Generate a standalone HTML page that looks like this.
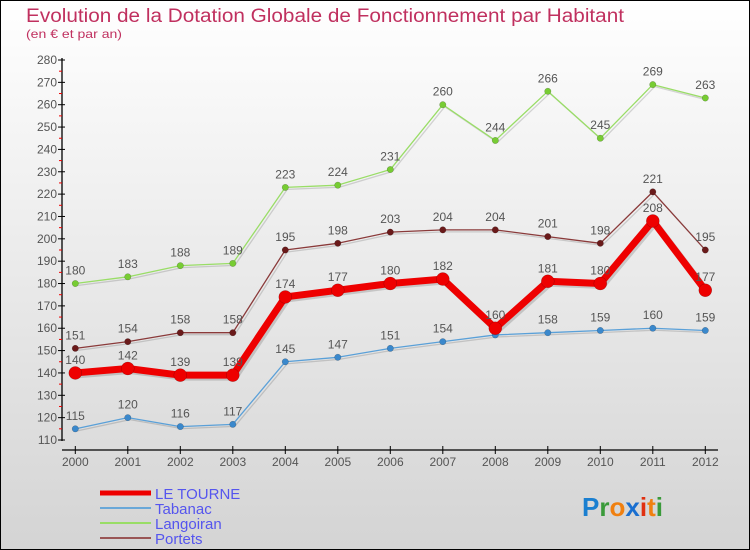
<!DOCTYPE html>
<html><head><meta charset="utf-8">
<style>
html,body{margin:0;padding:0}
body{width:750px;height:550px;overflow:hidden;font-family:"Liberation Sans",sans-serif}
svg{display:block}
</style></head>
<body>
<svg id="chart" width="750" height="550" xmlns="http://www.w3.org/2000/svg">
<defs>
<linearGradient id="bg" x1="0" y1="0" x2="0" y2="1">
<stop offset="0" stop-color="#ffffff"/><stop offset="1" stop-color="#d4d4d4"/>
</linearGradient>
</defs>
<rect x="0.5" y="0.5" width="749" height="549" fill="url(#bg)" stroke="#000"/>
<text x="26" y="22" font-size="19" fill="#c0305f" textLength="598" lengthAdjust="spacingAndGlyphs">Evolution de la Dotation Globale de Fonctionnement par Habitant</text>
<text x="26" y="38" font-size="12" fill="#c0305f" textLength="96" lengthAdjust="spacingAndGlyphs">(en € et par an)</text>
<g id="axes"></g>
<g id="series"></g>
<g id="legend"></g>
<text x="582" y="516" font-size="26" font-weight="bold"><tspan fill="#1a7fd0">P</tspan><tspan fill="#3a9a3a">r</tspan><tspan fill="#f08010">o</tspan><tspan fill="#1a6fd0">x</tspan><tspan fill="#e03010">i</tspan><tspan fill="#f08010">t</tspan><tspan fill="#3a9a3a">i</tspan></text>
</svg>
<script>
const years=["2000","2001","2002","2003","2004","2005","2006","2007","2008","2009","2010","2011","2012"];
const yTicks=[110,120,130,140,150,160,170,180,190,200,210,220,230,240,250,260,270,280];
const leTourne=[140,142,139,139,174,177,180,182,160,181,180,208,177];
const tabanac=[115,120,116,117,145,147,151,154,157,158,159,160,159];
const tabanacLabels=[115,120,116,117,145,147,151,154,"",158,159,160,159];
const langoiran=[180,183,188,189,223,224,231,260,244,266,245,269,263];
const portets=[151,154,158,158,195,198,203,204,204,201,198,221,195];
const seriesNames=["LE TOURNE","Tabanac","Langoiran","Portets"];

const NS="http://www.w3.org/2000/svg";
function X(i){return 75.3+i*52.5;}
function Y(v){return 440-(v-110)*380/170;}
function mk(tag,attrs,parent){const e=document.createElementNS(NS,tag);for(const k in attrs)e.setAttribute(k,attrs[k]);parent.appendChild(e);return e;}
const axes=document.getElementById('axes'),ser=document.getElementById('series'),leg=document.getElementById('legend');

let a=mk('line',{x1:62,y1:58,x2:62,y2:441,stroke:'#000','stroke-width':1.3},axes);


a=mk('line',{x1:62,y1:450,x2:718,y2:450,stroke:'#000','stroke-width':1.3},axes);


yTicks.forEach((v,k)=>{
  const t=mk('line',{x1:58,y1:Y(v),x2:65,y2:Y(v),stroke:'#000'},axes);
  
  
  const l=mk('text',{x:57,y:Y(v)+4,'font-size':12,fill:'#555','text-anchor':'end'},axes);
  l.textContent=v;
  
  
  if(k<yTicks.length-1){const m=mk('line',{x1:59,y1:Y(v+5),x2:62,y2:Y(v+5),stroke:'#e00'},axes);
  
  }
});
years.forEach((y,i)=>{
  const t=mk('line',{x1:X(i),y1:446,x2:X(i),y2:454,stroke:'#000'},axes);
  
  
  const l=mk('text',{x:X(i),y:466,'font-size':12,fill:'#555','text-anchor':'middle'},axes);
  l.textContent=y;
  
  
});
function drawSeries(vals,labels,color,dot,lw,r,name){
  const g=mk('g',{},ser);
  
  
  const pts=vals.map((v,i)=>X(i)+','+Y(v)).join(' ');
  mk('polyline',{points:pts,fill:'none',stroke:'rgba(0,0,0,0.15)','stroke-width':lw,transform:'translate(2,2)','stroke-linejoin':'round'},g);
  mk('polyline',{points:pts,fill:'none',stroke:color,'stroke-width':lw,'stroke-linejoin':'round'},g);
  vals.forEach((v,i)=>{
    const c=mk('circle',{cx:X(i),cy:Y(v),r:r,fill:dot,stroke:'rgba(0,0,0,0.3)','stroke-width':0.5},g);
    
    
    if(labels[i]!==""){
    const t=mk('text',{x:X(i),y:Y(v)-9,'font-size':12,fill:'#555','text-anchor':'middle'},g);
    t.textContent=labels[i];
    
    }
  });
}
drawSeries(langoiran,langoiran,'#99dd66','#77cc33',1.3,3.2,'series-langoiran');
drawSeries(portets,portets,'#8a3a3a','#6a1a1a',1.3,3.2,'series-portets');
drawSeries(tabanac,tabanacLabels,'#5aa0d8','#3a88cc',1.3,3.2,'series-tabanac');
drawSeries(leTourne,leTourne,'#ee0000','#ee0000',7,6.5,'series-le-tourne');

const legColors=['#ee0000','#6aa8d8','#99dd66','#995555'];
const legW=[5,2,2,2];
seriesNames.forEach((n,k)=>{
  const y=493+k*15;
  const l=mk('line',{x1:100,y1:y,x2:151,y2:y,stroke:legColors[k],'stroke-width':legW[k]},leg);
  
  
  const t=mk('text',{x:155,y:y+6,'font-size':15,fill:'#5555ee'},leg);
  t.textContent=n;
  
  
});
</script>
</body></html>
